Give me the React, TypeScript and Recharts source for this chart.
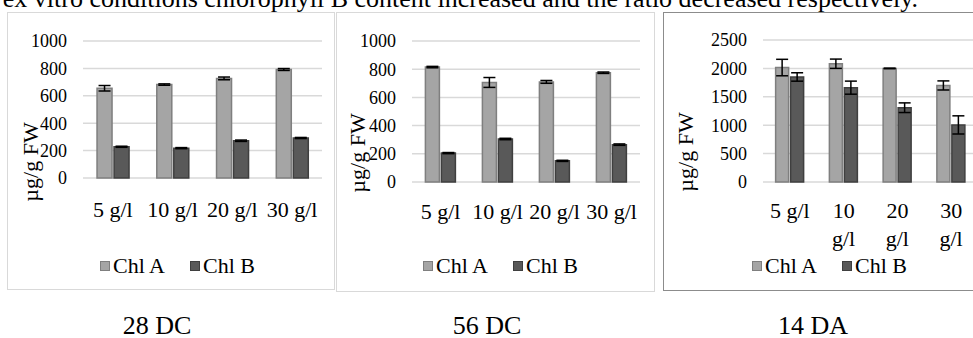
import React from "react";
import { BarChart, Bar, XAxis, YAxis, CartesianGrid, ErrorBar } from "recharts";

const FONT = '"Liberation Serif", "Times New Roman", serif';

const categories = ["5 g/l", "10 g/l", "20 g/l", "30 g/l"];
const seriesNames = ["Chl A", "Chl B"];
const captions = ["28 DC", "56 DC", "14 DA"];
const sentence = "ex vitro conditions chlorophyll B content increased and the ratio decreased respectively.";
const yTitle = "µg/g FW";

// 28 DC
const dc28ChlA = [655, 682, 727, 792];
const dc28ChlAErr = [20, 5, 10, 7];
const dc28ChlB = [228, 218, 272, 292];
const dc28ChlBErr = [4, 4, 5, 4];

// 56 DC
const dc56ChlA = [815, 706, 710, 775];
const dc56ChlAErr = [5, 35, 10, 5];
const dc56ChlB = [205, 305, 150, 265];
const dc56ChlBErr = [4, 5, 4, 5];

// 14 DA
const da14ChlA = [2015, 2082, 2000, 1700];
const da14ChlAErr = [145, 82, 5, 80];
const da14ChlB = [1849, 1661, 1308, 1005];
const da14ChlBErr = [74, 115, 85, 160];

const ticks1000 = [0, 200, 400, 600, 800, 1000];
const ticks2500 = [0, 500, 1000, 1500, 2000, 2500];

const colorA = "#a5a5a5";
const strokeA = "#7f7f7f";
const colorB = "#595959";
const strokeB = "#3f3f3f";

const rows = (a: number[], aErr: number[], b: number[], bErr: number[]) =>
  categories.map((name, i) => ({ name, a: a[i], aErr: aErr[i], b: b[i], bErr: bErr[i] }));

const YTitle = ({ lx, ly }: any) => (
  <text
    x={lx} y={ly} transform={`rotate(-90, ${lx}, ${ly})`}
    textAnchor="middle" fontSize={22} fontFamily={FONT} fill="#000"
  >
    {yTitle}
  </text>
);

// category tick; the narrow third chart wraps the longer labels onto two lines
const CatTick = (props: any) => {
  const { x, y, payload, wrap } = props;
  const label = String(payload.value);
  const lines = wrap && label.length > 5 ? label.split(" ") : [label];
  return (
    <text x={x} y={y} textAnchor="middle" fontSize={22} fontFamily={FONT} fill="#000">
      {lines.map((l, i) => (
        <tspan key={i} x={x} dy={i === 0 ? "0.71em" : 28}>{l}</tspan>
      ))}
    </text>
  );
};

const panels = [
  {
    data: rows(dc28ChlA, dc28ChlAErr, dc28ChlB, dc28ChlBErr), ticks: ticks1000, max: 1000,
    left: 7, top: 12, w: 328, h: 278, border: "#d9d9d9",
    margin: { top: 29, right: 13, bottom: 72, left: 0 }, yWidth: 76, xHeight: 40, xMargin: 23,
    title: { lx: 31, ly: 150 }, legendLeft: 100, captionX: 157, wrap: false,
  },
  {
    data: rows(dc56ChlA, dc56ChlAErr, dc56ChlB, dc56ChlBErr), ticks: ticks1000, max: 1000,
    left: 336, top: 12, w: 319, h: 280, border: "#d9d9d9",
    margin: { top: 29, right: 15, bottom: 70, left: 0 }, yWidth: 76, xHeight: 40, xMargin: 21,
    title: { lx: 29, ly: 141 }, legendLeft: 423, captionX: 487, wrap: false,
  },
  {
    data: rows(da14ChlA, da14ChlAErr, da14ChlB, da14ChlBErr), ticks: ticks2500, max: 2500,
    left: 663, top: 12, w: 330, h: 279, border: "#8c8c8c",
    margin: { top: 28, right: 15, bottom: 39, left: 0 }, yWidth: 100, xHeight: 70, xMargin: 20,
    title: { lx: 30, ly: 140 }, legendLeft: 752, captionX: 813, wrap: true,
  },
];

function Legend({ left }: { left: number }) {
  const items = [
    { name: seriesNames[0], fill: colorA, stroke: strokeA },
    { name: seriesNames[1], fill: colorB, stroke: strokeB },
  ];
  return (
    <div style={{ position: "absolute", left, top: 255, display: "flex", gap: 25, alignItems: "center" }}>
      {items.map((it) => (
        <div key={it.name} style={{ display: "flex", alignItems: "center", gap: 3 }}>
          <div style={{
            width: 10, height: 10, boxSizing: "border-box",
            background: it.fill, border: `1px solid ${it.stroke}`,
          }} />
          <span style={{ fontSize: 22, lineHeight: "22px", color: "#000", fontFamily: FONT }}>{it.name}</span>
        </div>
      ))}
    </div>
  );
}

export default function App() {
  return (
    <div style={{
      position: "absolute", left: 0, top: 0, width: 973, height: 338,
      overflow: "hidden", background: "#fff", fontFamily: FONT,
    }}>
      <div style={{
        position: "absolute", right: 55, top: -14, whiteSpace: "nowrap",
        fontSize: 26, lineHeight: "26px", color: "#000",
      }}>
        {sentence}
      </div>

      {panels.map((p, idx) => (
        <React.Fragment key={idx}>
          <div style={{
            position: "absolute", left: p.left, top: p.top, width: p.w, height: p.h,
            boxSizing: "border-box", border: `1px solid ${p.border}`,
          }} />
          <div style={{ position: "absolute", left: p.left, top: p.top }}>
            <BarChart
              width={p.w} height={p.h} data={p.data} margin={p.margin}
              barCategoryGap="23.5%" barGap={2}
            >
              <CartesianGrid vertical={false} stroke="#d9d9d9" strokeWidth={1.5} />
              <XAxis
                dataKey="name" interval={0} axisLine={false} tickLine={false}
                tickSize={0} tickMargin={p.xMargin} height={p.xHeight}
                tick={<CatTick wrap={p.wrap} />}
              />
              <YAxis
                domain={[0, p.max]} ticks={p.ticks} interval={0} width={p.yWidth}
                axisLine={false} tickLine={false} tickSize={0} tickMargin={16}
                tick={{ fontSize: 18, fontFamily: FONT, fill: "#000" }}
                label={<YTitle lx={p.title.lx} ly={p.title.ly} />}
              />
              <Bar dataKey="a" name={seriesNames[0]} fill={colorA} stroke={strokeA} strokeWidth={1.5} isAnimationActive={false}>
                <ErrorBar dataKey="aErr" width={6} stroke="#000" strokeWidth={1.5} direction="y" isAnimationActive={false} />
              </Bar>
              <Bar dataKey="b" name={seriesNames[1]} fill={colorB} stroke={strokeB} strokeWidth={1.5} isAnimationActive={false}>
                <ErrorBar dataKey="bErr" width={6} stroke="#000" strokeWidth={1.5} direction="y" isAnimationActive={false} />
              </Bar>
            </BarChart>
          </div>
          <Legend left={p.legendLeft} />
          <div style={{
            position: "absolute", left: p.captionX - 100, top: 316, width: 200,
            textAlign: "center", fontSize: 26, lineHeight: "20px", color: "#000",
          }}>
            {captions[idx]}
          </div>
        </React.Fragment>
      ))}
    </div>
  );
}
